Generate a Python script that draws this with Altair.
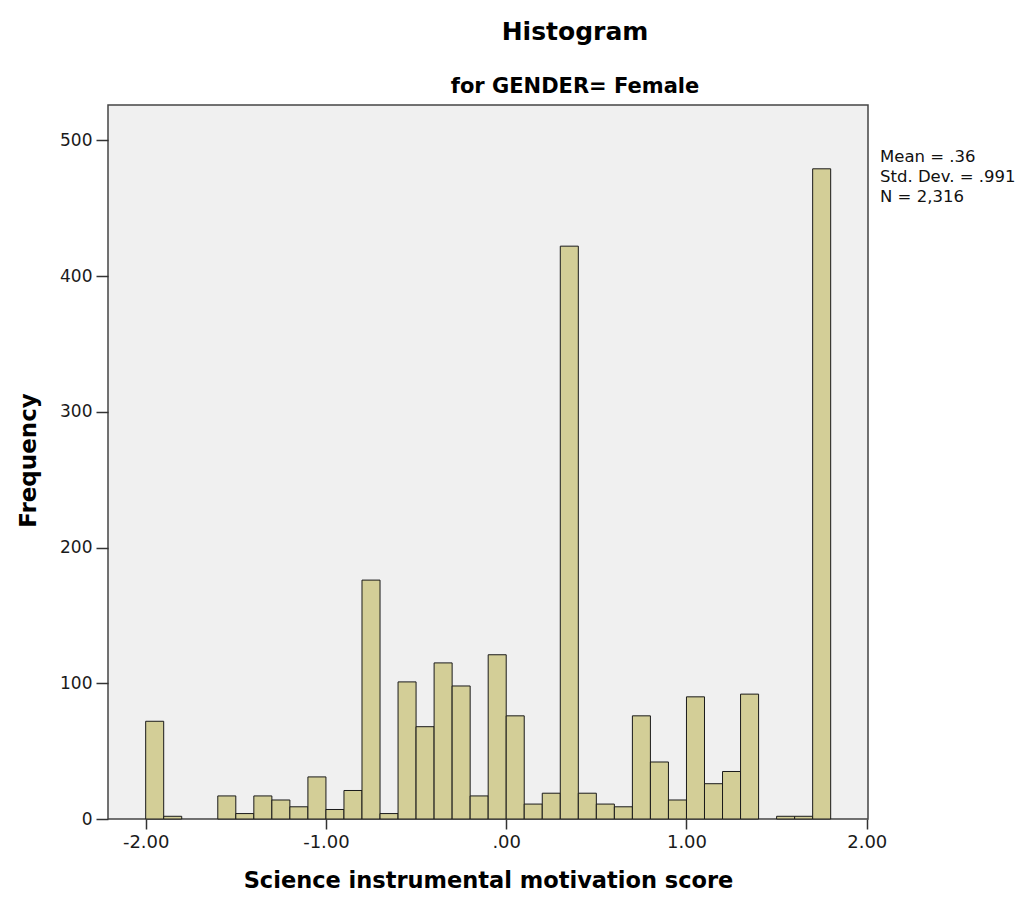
import altair as alt
import pandas as pd

# Bin lower / upper edges (width 0.1) and frequencies
bin_lo = [-2.0, -1.9, -1.8, -1.7, -1.6, -1.5, -1.4, -1.3, -1.2, -1.1,
          -1.0, -0.9, -0.8, -0.7, -0.6, -0.5, -0.4, -0.3, -0.2, -0.1,
          0.0, 0.1, 0.2, 0.3, 0.4, 0.5, 0.6, 0.7, 0.8, 0.9,
          1.0, 1.1, 1.2, 1.3, 1.4, 1.5, 1.6, 1.7]
bin_hi = [-1.9, -1.8, -1.7, -1.6, -1.5, -1.4, -1.3, -1.2, -1.1, -1.0,
          -0.9, -0.8, -0.7, -0.6, -0.5, -0.4, -0.3, -0.2, -0.1, 0.0,
          0.1, 0.2, 0.3, 0.4, 0.5, 0.6, 0.7, 0.8, 0.9, 1.0,
          1.1, 1.2, 1.3, 1.4, 1.5, 1.6, 1.7, 1.8]
counts = [72, 2, 0, 0, 17, 4, 17, 14, 9, 31,
          7, 21, 176, 4, 101, 68, 115, 98, 17, 121,
          76, 11, 19, 422, 19, 11, 9, 76, 42, 14,
          90, 26, 35, 92, 0, 2, 2, 479]

x_ticks = [-2, -1, 0, 1, 2]
y_ticks = [0, 100, 200, 300, 400, 500]

title_text = "Histogram"
subtitle_text = "for GENDER= Female"
x_title = "Science instrumental motivation score"
y_title = "Frequency"
stats_text = "Mean = .36\nStd. Dev. = .991\nN = 2,316"

df = pd.DataFrame({"lo": bin_lo, "hi": bin_hi, "count": counts})
df = df[df["count"] > 0]

W, H = 760, 714
FONT = "DejaVu Sans"

x_label_expr = (
    "datum.value == 0 ? '.00' : "
    "replace(format(datum.value, '.2f'), '\u2212', '-')"
)

bars = alt.Chart(df).mark_bar(
    fill="#D3CE97", stroke="#1a1a1a", strokeWidth=1
).encode(
    x=alt.X(
        "lo:Q",
        scale=alt.Scale(domain=[-2.209, 2.007], nice=False, zero=False),
        axis=alt.Axis(
            values=x_ticks,
            labelExpr=x_label_expr,
            title=x_title,
            titleFont=FONT, titleFontSize=22.5, titleFontWeight="bold",
            titleColor="#000", titleBaseline="alphabetic", titleY=68,
            titleX=W / 2, titleAlign="center",
            labelFont=FONT, labelFontSize=18, labelColor="#1a1a1a",
            labelPadding=4, tickSize=10, tickColor="#333", tickWidth=1.5,
            domain=False, grid=False,
        ),
    ),
    x2="hi:Q",
    y=alt.Y(
        "count:Q",
        scale=alt.Scale(domain=[0, 526], nice=False),
        axis=alt.Axis(
            values=y_ticks,
            title=y_title,
            titleFont=FONT, titleFontSize=23, titleFontWeight="bold",
            titleColor="#000", titleX=-80, titleY=355, titleAngle=270,
            titleAlign="center", titleBaseline="middle",
            labelFont=FONT, labelFontSize=17, labelColor="#1a1a1a",
            labelPadding=4, tickSize=12, tickColor="#333", tickWidth=1.5,
            domain=False, grid=False,
        ),
    ),
    y2=alt.datum(0),
)

title_mark = alt.Chart(pd.DataFrame({"t": [title_text]})).mark_text(
    font=FONT, fontSize=25, fontWeight="bold", align="center",
    baseline="alphabetic", color="#000"
).encode(x=alt.value(467), y=alt.value(-65), text="t:N")

subtitle_mark = alt.Chart(pd.DataFrame({"t": [subtitle_text]})).mark_text(
    font=FONT, fontSize=21, fontWeight="bold", align="center",
    baseline="alphabetic", color="#000"
).encode(x=alt.value(467), y=alt.value(-12.5), text="t:N")

stats_mark = alt.Chart(pd.DataFrame({"t": [stats_text]})).mark_text(
    font=FONT, fontSize=16.5, align="left", baseline="alphabetic",
    color="#111", lineBreak="\n", lineHeight=20
).encode(x=alt.value(772), y=alt.value(56.7), text="t:N")

chart = alt.layer(bars, title_mark, subtitle_mark, stats_mark).properties(
    width=W, height=H,
    autosize=alt.AutoSizeParams(type="none"),
    padding={"left": 100, "top": 97, "right": 148, "bottom": 73},
    background="#ffffff",
).configure_view(
    fill="#F0F0F0", stroke="#444444", strokeWidth=1.5
)

chart.save("out.html", embed_options={"renderer": "svg", "actions": False})
